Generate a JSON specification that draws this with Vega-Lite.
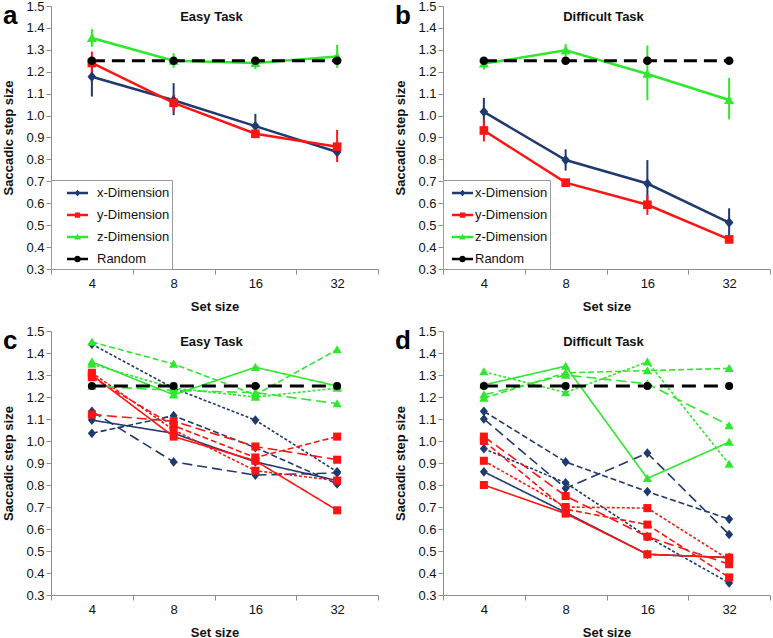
{
  "$schema": "https://vega.github.io/schema/vega-lite/v6.json",
  "background": "white",
  "padding": {"top": 0, "left": 2, "right": 0, "bottom": 0},
  "bounds": "flush",
  "columns": 2,
  "spacing": {"row": 62, "column": 65},
  "resolve": {
    "scale": {"color": "independent", "shape": "independent", "strokeDash": "independent"},
    "legend": {"color": "independent", "shape": "independent"}
  },
  "config": {
    "view": {"stroke": null},
    "font": "Liberation Sans",
    "axis": {
      "domainColor": "#8c8c8c", "tickColor": "#8c8c8c", "grid": false, "tickSize": 5,
      "labelFont": "Liberation Sans", "labelFontSize": 13, "labelColor": "#111111",
      "titleFont": "Liberation Sans", "titleFontSize": 13, "titleFontWeight": "bold", "titleColor": "#111111"
    },
    "axisY": {"labelPadding": 2, "titlePadding": 10},
    "axisX": {"labelPadding": 3, "titlePadding": 10, "labelAngle": 0, "tickBand": "extent"},
    "legend": {
      "orient": "bottom-left", "offset": 0, "strokeColor": "#9a9a9a", "fillColor": "white", "padding": 2.5, "cornerRadius": 0,
      "labelFont": "Liberation Sans", "labelFontSize": 13, "labelColor": "#111111", "symbolSize": 441, "rowPadding": 4,
      "labelOffset": 9, "symbolOffset": 13.5, "symbolStrokeWidth": 0, "symbolOpacity": 1
    }
  },
  "datasets": {
    "d": [
      {"p":"a","dim":"x-Dimension","s":"m","set":"4","v":1.177,"lo":1.087,"hi":1.267},
      {"p":"a","dim":"x-Dimension","s":"m","set":"8","v":1.070,"lo":1.002,"hi":1.148},
      {"p":"a","dim":"x-Dimension","s":"m","set":"16","v":0.952,"lo":0.898,"hi":1.008},
      {"p":"a","dim":"x-Dimension","s":"m","set":"32","v":0.834,"lo":0.805,"hi":0.863},
      {"p":"a","dim":"y-Dimension","s":"m","set":"4","v":1.240,"lo":1.190,"hi":1.292},
      {"p":"a","dim":"y-Dimension","s":"m","set":"8","v":1.058,"lo":1.020,"hi":1.096},
      {"p":"a","dim":"y-Dimension","s":"m","set":"16","v":0.917,"lo":0.897,"hi":0.937},
      {"p":"a","dim":"y-Dimension","s":"m","set":"32","v":0.858,"lo":0.788,"hi":0.935},
      {"p":"a","dim":"z-Dimension","s":"m","set":"4","v":1.354,"lo":1.314,"hi":1.394},
      {"p":"a","dim":"z-Dimension","s":"m","set":"8","v":1.250,"lo":1.218,"hi":1.285},
      {"p":"a","dim":"z-Dimension","s":"m","set":"16","v":1.240,"lo":1.212,"hi":1.268},
      {"p":"a","dim":"z-Dimension","s":"m","set":"32","v":1.270,"lo":1.218,"hi":1.322},
      {"p":"a","dim":"Random","s":"m","set":"4","v":1.25},
      {"p":"a","dim":"Random","s":"m","set":"8","v":1.25},
      {"p":"a","dim":"Random","s":"m","set":"16","v":1.25},
      {"p":"a","dim":"Random","s":"m","set":"32","v":1.25},

      {"p":"b","dim":"x-Dimension","s":"m","set":"4","v":1.017,"lo":0.953,"hi":1.081},
      {"p":"b","dim":"x-Dimension","s":"m","set":"8","v":0.797,"lo":0.749,"hi":0.846},
      {"p":"b","dim":"x-Dimension","s":"m","set":"16","v":0.690,"lo":0.585,"hi":0.797},
      {"p":"b","dim":"x-Dimension","s":"m","set":"32","v":0.512,"lo":0.447,"hi":0.577},
      {"p":"b","dim":"y-Dimension","s":"m","set":"4","v":0.932,"lo":0.882,"hi":0.982},
      {"p":"b","dim":"y-Dimension","s":"m","set":"8","v":0.694,"lo":0.680,"hi":0.710},
      {"p":"b","dim":"y-Dimension","s":"m","set":"16","v":0.593,"lo":0.547,"hi":0.639},
      {"p":"b","dim":"y-Dimension","s":"m","set":"32","v":0.435,"lo":0.418,"hi":0.452},
      {"p":"b","dim":"z-Dimension","s":"m","set":"4","v":1.237,"lo":1.210,"hi":1.265},
      {"p":"b","dim":"z-Dimension","s":"m","set":"8","v":1.298,"lo":1.270,"hi":1.326},
      {"p":"b","dim":"z-Dimension","s":"m","set":"16","v":1.190,"lo":1.070,"hi":1.320},
      {"p":"b","dim":"z-Dimension","s":"m","set":"32","v":1.071,"lo":0.983,"hi":1.172},
      {"p":"b","dim":"Random","s":"m","set":"4","v":1.25},
      {"p":"b","dim":"Random","s":"m","set":"8","v":1.25},
      {"p":"b","dim":"Random","s":"m","set":"16","v":1.25},
      {"p":"b","dim":"Random","s":"m","set":"32","v":1.25},

      {"p":"c","dim":"x-Dimension","s":"1","set":"4","v":1.095},
      {"p":"c","dim":"x-Dimension","s":"1","set":"8","v":1.035},
      {"p":"c","dim":"x-Dimension","s":"1","set":"16","v":0.905},
      {"p":"c","dim":"x-Dimension","s":"1","set":"32","v":0.820},
      {"p":"c","dim":"x-Dimension","s":"2","set":"4","v":1.135},
      {"p":"c","dim":"x-Dimension","s":"2","set":"8","v":0.905},
      {"p":"c","dim":"x-Dimension","s":"2","set":"16","v":0.845},
      {"p":"c","dim":"x-Dimension","s":"2","set":"32","v":0.855},
      {"p":"c","dim":"x-Dimension","s":"3","set":"4","v":1.035},
      {"p":"c","dim":"x-Dimension","s":"3","set":"8","v":1.115},
      {"p":"c","dim":"x-Dimension","s":"3","set":"16","v":0.970},
      {"p":"c","dim":"x-Dimension","s":"3","set":"32","v":0.805},
      {"p":"c","dim":"x-Dimension","s":"4","set":"4","v":1.440},
      {"p":"c","dim":"x-Dimension","s":"4","set":"8","v":1.240},
      {"p":"c","dim":"x-Dimension","s":"4","set":"16","v":1.095},
      {"p":"c","dim":"x-Dimension","s":"4","set":"32","v":0.860},
      {"p":"c","dim":"y-Dimension","s":"1","set":"4","v":1.300},
      {"p":"c","dim":"y-Dimension","s":"1","set":"8","v":1.020},
      {"p":"c","dim":"y-Dimension","s":"1","set":"16","v":0.910},
      {"p":"c","dim":"y-Dimension","s":"1","set":"32","v":0.685},
      {"p":"c","dim":"y-Dimension","s":"2","set":"4","v":1.120},
      {"p":"c","dim":"y-Dimension","s":"2","set":"8","v":1.090},
      {"p":"c","dim":"y-Dimension","s":"2","set":"16","v":0.975},
      {"p":"c","dim":"y-Dimension","s":"2","set":"32","v":0.915},
      {"p":"c","dim":"y-Dimension","s":"3","set":"4","v":1.290},
      {"p":"c","dim":"y-Dimension","s":"3","set":"8","v":1.070},
      {"p":"c","dim":"y-Dimension","s":"3","set":"16","v":0.925},
      {"p":"c","dim":"y-Dimension","s":"3","set":"32","v":1.020},
      {"p":"c","dim":"y-Dimension","s":"4","set":"4","v":1.310},
      {"p":"c","dim":"y-Dimension","s":"4","set":"8","v":1.050},
      {"p":"c","dim":"y-Dimension","s":"4","set":"16","v":0.865},
      {"p":"c","dim":"y-Dimension","s":"4","set":"32","v":0.820},
      {"p":"c","dim":"z-Dimension","s":"1","set":"4","v":1.360},
      {"p":"c","dim":"z-Dimension","s":"1","set":"8","v":1.210},
      {"p":"c","dim":"z-Dimension","s":"1","set":"16","v":1.335},
      {"p":"c","dim":"z-Dimension","s":"1","set":"32","v":1.250},
      {"p":"c","dim":"z-Dimension","s":"2","set":"4","v":1.250},
      {"p":"c","dim":"z-Dimension","s":"2","set":"8","v":1.230},
      {"p":"c","dim":"z-Dimension","s":"2","set":"16","v":1.220},
      {"p":"c","dim":"z-Dimension","s":"2","set":"32","v":1.170},
      {"p":"c","dim":"z-Dimension","s":"3","set":"4","v":1.450},
      {"p":"c","dim":"z-Dimension","s":"3","set":"8","v":1.350},
      {"p":"c","dim":"z-Dimension","s":"3","set":"16","v":1.210},
      {"p":"c","dim":"z-Dimension","s":"3","set":"32","v":1.415},
      {"p":"c","dim":"z-Dimension","s":"4","set":"4","v":1.350},
      {"p":"c","dim":"z-Dimension","s":"4","set":"8","v":1.240},
      {"p":"c","dim":"z-Dimension","s":"4","set":"16","v":1.200},
      {"p":"c","dim":"z-Dimension","s":"4","set":"32","v":1.240},
      {"p":"c","dim":"Random","s":"R","set":"4","v":1.25},
      {"p":"c","dim":"Random","s":"R","set":"8","v":1.25},
      {"p":"c","dim":"Random","s":"R","set":"16","v":1.25},
      {"p":"c","dim":"Random","s":"R","set":"32","v":1.25},

      {"p":"d","dim":"x-Dimension","s":"1","set":"4","v":0.860},
      {"p":"d","dim":"x-Dimension","s":"1","set":"8","v":0.675},
      {"p":"d","dim":"x-Dimension","s":"1","set":"16","v":0.485},
      {"p":"d","dim":"x-Dimension","s":"1","set":"32","v":0.470},
      {"p":"d","dim":"x-Dimension","s":"2","set":"4","v":1.100},
      {"p":"d","dim":"x-Dimension","s":"2","set":"8","v":0.785},
      {"p":"d","dim":"x-Dimension","s":"2","set":"16","v":0.945},
      {"p":"d","dim":"x-Dimension","s":"2","set":"32","v":0.575},
      {"p":"d","dim":"x-Dimension","s":"3","set":"4","v":1.135},
      {"p":"d","dim":"x-Dimension","s":"3","set":"8","v":0.905},
      {"p":"d","dim":"x-Dimension","s":"3","set":"16","v":0.770},
      {"p":"d","dim":"x-Dimension","s":"3","set":"32","v":0.645},
      {"p":"d","dim":"x-Dimension","s":"4","set":"4","v":0.965},
      {"p":"d","dim":"x-Dimension","s":"4","set":"8","v":0.810},
      {"p":"d","dim":"x-Dimension","s":"4","set":"16","v":0.565},
      {"p":"d","dim":"x-Dimension","s":"4","set":"32","v":0.355},
      {"p":"d","dim":"y-Dimension","s":"1","set":"4","v":0.800},
      {"p":"d","dim":"y-Dimension","s":"1","set":"8","v":0.670},
      {"p":"d","dim":"y-Dimension","s":"1","set":"16","v":0.485},
      {"p":"d","dim":"y-Dimension","s":"1","set":"32","v":0.470},
      {"p":"d","dim":"y-Dimension","s":"2","set":"4","v":1.020},
      {"p":"d","dim":"y-Dimension","s":"2","set":"8","v":0.750},
      {"p":"d","dim":"y-Dimension","s":"2","set":"16","v":0.565},
      {"p":"d","dim":"y-Dimension","s":"2","set":"32","v":0.440},
      {"p":"d","dim":"y-Dimension","s":"3","set":"4","v":1.000},
      {"p":"d","dim":"y-Dimension","s":"3","set":"8","v":0.690},
      {"p":"d","dim":"y-Dimension","s":"3","set":"16","v":0.620},
      {"p":"d","dim":"y-Dimension","s":"3","set":"32","v":0.380},
      {"p":"d","dim":"y-Dimension","s":"4","set":"4","v":0.910},
      {"p":"d","dim":"y-Dimension","s":"4","set":"8","v":0.700},
      {"p":"d","dim":"y-Dimension","s":"4","set":"16","v":0.695},
      {"p":"d","dim":"y-Dimension","s":"4","set":"32","v":0.460},
      {"p":"d","dim":"z-Dimension","s":"1","set":"4","v":1.255},
      {"p":"d","dim":"z-Dimension","s":"1","set":"8","v":1.340},
      {"p":"d","dim":"z-Dimension","s":"1","set":"16","v":0.830},
      {"p":"d","dim":"z-Dimension","s":"1","set":"32","v":0.995},
      {"p":"d","dim":"z-Dimension","s":"2","set":"4","v":1.210},
      {"p":"d","dim":"z-Dimension","s":"2","set":"8","v":1.300},
      {"p":"d","dim":"z-Dimension","s":"2","set":"16","v":1.260},
      {"p":"d","dim":"z-Dimension","s":"2","set":"32","v":1.070},
      {"p":"d","dim":"z-Dimension","s":"3","set":"4","v":1.195},
      {"p":"d","dim":"z-Dimension","s":"3","set":"8","v":1.310},
      {"p":"d","dim":"z-Dimension","s":"3","set":"16","v":1.320},
      {"p":"d","dim":"z-Dimension","s":"3","set":"32","v":1.330},
      {"p":"d","dim":"z-Dimension","s":"4","set":"4","v":1.315},
      {"p":"d","dim":"z-Dimension","s":"4","set":"8","v":1.220},
      {"p":"d","dim":"z-Dimension","s":"4","set":"16","v":1.360},
      {"p":"d","dim":"z-Dimension","s":"4","set":"32","v":0.895},
      {"p":"d","dim":"Random","s":"R","set":"4","v":1.25},
      {"p":"d","dim":"Random","s":"R","set":"8","v":1.25},
      {"p":"d","dim":"Random","s":"R","set":"16","v":1.25},
      {"p":"d","dim":"Random","s":"R","set":"32","v":1.25}
    ]
  },
  "concat": [
    {
      "width": 327, "height": 263,
      "title": {"text": "a", "anchor": "start", "frame": "bounds", "fontSize": 26, "fontWeight": "bold", "font": "Liberation Sans", "color": "black", "offset": -29},
      "data": {"name": "d"},
      "layer": [
        {
          "transform": [{"filter": "datum.p == 'a' && datum.dim != 'Random'"}],
          "mark": {"type": "rule", "strokeWidth": 2},
          "encoding": {
            "x": {"field": "set", "type": "ordinal", "title": "Set size", "scale": {"type": "band", "domain": ["4","8","16","32"], "paddingInner": 0, "paddingOuter": 0}},
            "y": {"field": "lo", "type": "quantitative", "title": "Saccadic step size", "scale": {"domain": [0.3, 1.5], "nice": false, "zero": false}, "axis": {"values": [0.3,0.4,0.5,0.6,0.7,0.8,0.9,1.0,1.1,1.2,1.3,1.4,1.5], "format": ".1f", "labelOverlap": false}},
            "y2": {"field": "hi"},
            "color": {"field": "dim", "type": "nominal", "scale": {"domain": ["x-Dimension","y-Dimension","z-Dimension","Random"], "range": ["#1F3A6E","#FF1414","#2EE82E","#000000"]}}
          }
        },
        {
          "transform": [{"filter": "datum.p == 'a' && datum.dim != 'Random'"}],
          "mark": {"type": "line", "strokeWidth": 2.5},
          "encoding": {
            "x": {"field": "set", "type": "ordinal", "title": "Set size", "scale": {"type": "band", "domain": ["4","8","16","32"], "paddingInner": 0, "paddingOuter": 0}},
            "y": {"field": "v", "type": "quantitative", "title": "Saccadic step size", "axis": {"values": [0.3,0.4,0.5,0.6,0.7,0.8,0.9,1.0,1.1,1.2,1.3,1.4,1.5], "format": ".1f", "labelOverlap": false}},
            "color": {"field": "dim", "type": "nominal"}
          }
        },
        {
          "transform": [{"filter": "datum.p == 'a' && datum.dim == 'Random'"}],
          "mark": {"type": "line", "strokeWidth": 3, "strokeDash": [13, 7]},
          "encoding": {
            "x": {"field": "set", "type": "ordinal", "title": "Set size", "scale": {"type": "band", "domain": ["4","8","16","32"], "paddingInner": 0, "paddingOuter": 0}},
            "y": {"field": "v", "type": "quantitative", "title": "Saccadic step size", "axis": {"values": [0.3,0.4,0.5,0.6,0.7,0.8,0.9,1.0,1.1,1.2,1.3,1.4,1.5], "format": ".1f", "labelOverlap": false}},
            "color": {"field": "dim", "type": "nominal"}
          }
        },
        {
          "transform": [{"filter": "datum.p == 'a'"}],
          "mark": {"type": "point", "filled": true, "opacity": 0, "size": 10},
          "encoding": {
            "x": {"field": "set", "type": "ordinal", "title": "Set size", "scale": {"type": "band", "domain": ["4","8","16","32"], "paddingInner": 0, "paddingOuter": 0}},
            "y": {"field": "v", "type": "quantitative", "title": "Saccadic step size", "axis": {"values": [0.3,0.4,0.5,0.6,0.7,0.8,0.9,1.0,1.1,1.2,1.3,1.4,1.5], "format": ".1f", "labelOverlap": false}},
            "color": {"field": "dim", "type": "nominal", "legend": {"title": null, "labelExpr": "datum.label + '\u00a0\u00a0\u00a0\u00a0\u00a0\u00a0\u00a0'"}},
            "shape": {"field": "dim", "type": "nominal", "legend": {"title": null, "labelExpr": "datum.label + '\u00a0\u00a0\u00a0\u00a0\u00a0\u00a0\u00a0'"}, "scale": {"domain": ["x-Dimension","y-Dimension","z-Dimension","Random"], "range": [
              "M-1,-0.12H1V0.12H-1Z M0,-0.32L0.3,0L0,0.32L-0.3,0Z",
              "M-1,-0.12H1V0.12H-1Z M-0.25,-0.25H0.25V0.25H-0.25Z",
              "M-1,-0.12H1V0.12H-1Z M0,-0.32L0.32,0.24H-0.32Z",
              "M-1,-0.12H1V0.12H-1Z M-0.32,0A0.32,0.32,0,1,1,0.32,0A0.32,0.32,0,1,1,-0.32,0Z"
            ]}}
          }
        },
        {
          "transform": [{"filter": "datum.p == 'a' && datum.dim == 'x-Dimension'"}],
          "mark": {"type": "point", "filled": true, "opacity": 1, "size": 75, "color": "#1F3A6E", "shape": "M0,-1.2L1,0L0,1.2L-1,0Z"},
          "encoding": {
            "x": {"field": "set", "type": "ordinal", "title": "Set size", "scale": {"type": "band", "domain": ["4","8","16","32"], "paddingInner": 0, "paddingOuter": 0}},
            "y": {"field": "v", "type": "quantitative", "title": "Saccadic step size", "axis": {"values": [0.3,0.4,0.5,0.6,0.7,0.8,0.9,1.0,1.1,1.2,1.3,1.4,1.5], "format": ".1f", "labelOverlap": false}}
          }
        },
        {
          "transform": [{"filter": "datum.p == 'a' && datum.dim == 'y-Dimension'"}],
          "mark": {"type": "point", "filled": true, "opacity": 1, "size": 75, "color": "#FF1414", "shape": "square"},
          "encoding": {
            "x": {"field": "set", "type": "ordinal", "title": "Set size", "scale": {"type": "band", "domain": ["4","8","16","32"], "paddingInner": 0, "paddingOuter": 0}},
            "y": {"field": "v", "type": "quantitative", "title": "Saccadic step size", "axis": {"values": [0.3,0.4,0.5,0.6,0.7,0.8,0.9,1.0,1.1,1.2,1.3,1.4,1.5], "format": ".1f", "labelOverlap": false}}
          }
        },
        {
          "transform": [{"filter": "datum.p == 'a' && datum.dim == 'z-Dimension'"}],
          "mark": {"type": "point", "filled": true, "opacity": 1, "size": 75, "color": "#2EE82E", "shape": "M0,-1.1L1.15,0.9L-1.15,0.9Z"},
          "encoding": {
            "x": {"field": "set", "type": "ordinal", "title": "Set size", "scale": {"type": "band", "domain": ["4","8","16","32"], "paddingInner": 0, "paddingOuter": 0}},
            "y": {"field": "v", "type": "quantitative", "title": "Saccadic step size", "axis": {"values": [0.3,0.4,0.5,0.6,0.7,0.8,0.9,1.0,1.1,1.2,1.3,1.4,1.5], "format": ".1f", "labelOverlap": false}}
          }
        },
        {
          "transform": [{"filter": "datum.p == 'a' && datum.dim == 'Random'"}],
          "mark": {"type": "point", "filled": true, "opacity": 1, "size": 75, "color": "#000000", "shape": "circle"},
          "encoding": {
            "x": {"field": "set", "type": "ordinal", "title": "Set size", "scale": {"type": "band", "domain": ["4","8","16","32"], "paddingInner": 0, "paddingOuter": 0}},
            "y": {"field": "v", "type": "quantitative", "title": "Saccadic step size", "axis": {"values": [0.3,0.4,0.5,0.6,0.7,0.8,0.9,1.0,1.1,1.2,1.3,1.4,1.5], "format": ".1f", "labelOverlap": false}}
          }
        },
        {
          "data": {"values": [{"t": "Easy Task"}]},
          "mark": {"type": "text", "font": "Liberation Sans", "fontSize": 13, "fontWeight": "bold", "align": "center", "baseline": "middle", "dx": -3, "color": "#111111"},
          "encoding": {
            "x": {"datum": "8", "type": "ordinal", "bandPosition": 1},
            "y": {"datum": 1.45, "type": "quantitative", "axis": {"values": [0.3,0.4,0.5,0.6,0.7,0.8,0.9,1.0,1.1,1.2,1.3,1.4,1.5], "format": ".1f", "labelOverlap": false}},
            "text": {"field": "t"}
          }
        }
      ]
    },
    {
      "width": 327, "height": 263,
      "title": {"text": "b", "anchor": "start", "frame": "bounds", "fontSize": 26, "fontWeight": "bold", "font": "Liberation Sans", "color": "black", "offset": -29},
      "data": {"name": "d"},
      "layer": [
        {
          "transform": [{"filter": "datum.p == 'b' && datum.dim != 'Random'"}],
          "mark": {"type": "rule", "strokeWidth": 2},
          "encoding": {
            "x": {"field": "set", "type": "ordinal", "title": "Set size", "scale": {"type": "band", "domain": ["4","8","16","32"], "paddingInner": 0, "paddingOuter": 0}},
            "y": {"field": "lo", "type": "quantitative", "title": "Saccadic step size", "scale": {"domain": [0.3, 1.5], "nice": false, "zero": false}, "axis": {"values": [0.3,0.4,0.5,0.6,0.7,0.8,0.9,1.0,1.1,1.2,1.3,1.4,1.5], "format": ".1f", "labelOverlap": false}},
            "y2": {"field": "hi"},
            "color": {"field": "dim", "type": "nominal", "scale": {"domain": ["x-Dimension","y-Dimension","z-Dimension","Random"], "range": ["#1F3A6E","#FF1414","#2EE82E","#000000"]}}
          }
        },
        {
          "transform": [{"filter": "datum.p == 'b' && datum.dim != 'Random'"}],
          "mark": {"type": "line", "strokeWidth": 2.5},
          "encoding": {
            "x": {"field": "set", "type": "ordinal", "title": "Set size", "scale": {"type": "band", "domain": ["4","8","16","32"], "paddingInner": 0, "paddingOuter": 0}},
            "y": {"field": "v", "type": "quantitative", "title": "Saccadic step size", "axis": {"values": [0.3,0.4,0.5,0.6,0.7,0.8,0.9,1.0,1.1,1.2,1.3,1.4,1.5], "format": ".1f", "labelOverlap": false}},
            "color": {"field": "dim", "type": "nominal"}
          }
        },
        {
          "transform": [{"filter": "datum.p == 'b' && datum.dim == 'Random'"}],
          "mark": {"type": "line", "strokeWidth": 3, "strokeDash": [13, 7]},
          "encoding": {
            "x": {"field": "set", "type": "ordinal", "title": "Set size", "scale": {"type": "band", "domain": ["4","8","16","32"], "paddingInner": 0, "paddingOuter": 0}},
            "y": {"field": "v", "type": "quantitative", "title": "Saccadic step size", "axis": {"values": [0.3,0.4,0.5,0.6,0.7,0.8,0.9,1.0,1.1,1.2,1.3,1.4,1.5], "format": ".1f", "labelOverlap": false}},
            "color": {"field": "dim", "type": "nominal"}
          }
        },
        {
          "transform": [{"filter": "datum.p == 'b'"}],
          "mark": {"type": "point", "filled": true, "opacity": 0, "size": 10},
          "encoding": {
            "x": {"field": "set", "type": "ordinal", "title": "Set size", "scale": {"type": "band", "domain": ["4","8","16","32"], "paddingInner": 0, "paddingOuter": 0}},
            "y": {"field": "v", "type": "quantitative", "title": "Saccadic step size", "axis": {"values": [0.3,0.4,0.5,0.6,0.7,0.8,0.9,1.0,1.1,1.2,1.3,1.4,1.5], "format": ".1f", "labelOverlap": false}},
            "color": {"field": "dim", "type": "nominal", "legend": {"title": null, "labelOffset": 2, "symbolOffset": 6.5, "labelExpr": "datum.label + '\u00a0\u00a0\u00a0\u00a0'"}},
            "shape": {"field": "dim", "type": "nominal", "legend": {"title": null, "labelOffset": 2, "symbolOffset": 6.5, "labelExpr": "datum.label + '\u00a0\u00a0\u00a0\u00a0'"}, "scale": {"domain": ["x-Dimension","y-Dimension","z-Dimension","Random"], "range": [
              "M-1,-0.12H1V0.12H-1Z M0,-0.32L0.3,0L0,0.32L-0.3,0Z",
              "M-1,-0.12H1V0.12H-1Z M-0.25,-0.25H0.25V0.25H-0.25Z",
              "M-1,-0.12H1V0.12H-1Z M0,-0.32L0.32,0.24H-0.32Z",
              "M-1,-0.12H1V0.12H-1Z M-0.32,0A0.32,0.32,0,1,1,0.32,0A0.32,0.32,0,1,1,-0.32,0Z"
            ]}}
          }
        },
        {
          "transform": [{"filter": "datum.p == 'b' && datum.dim == 'x-Dimension'"}],
          "mark": {"type": "point", "filled": true, "opacity": 1, "size": 75, "color": "#1F3A6E", "shape": "M0,-1.2L1,0L0,1.2L-1,0Z"},
          "encoding": {
            "x": {"field": "set", "type": "ordinal", "title": "Set size", "scale": {"type": "band", "domain": ["4","8","16","32"], "paddingInner": 0, "paddingOuter": 0}},
            "y": {"field": "v", "type": "quantitative", "title": "Saccadic step size", "axis": {"values": [0.3,0.4,0.5,0.6,0.7,0.8,0.9,1.0,1.1,1.2,1.3,1.4,1.5], "format": ".1f", "labelOverlap": false}}
          }
        },
        {
          "transform": [{"filter": "datum.p == 'b' && datum.dim == 'y-Dimension'"}],
          "mark": {"type": "point", "filled": true, "opacity": 1, "size": 75, "color": "#FF1414", "shape": "square"},
          "encoding": {
            "x": {"field": "set", "type": "ordinal", "title": "Set size", "scale": {"type": "band", "domain": ["4","8","16","32"], "paddingInner": 0, "paddingOuter": 0}},
            "y": {"field": "v", "type": "quantitative", "title": "Saccadic step size", "axis": {"values": [0.3,0.4,0.5,0.6,0.7,0.8,0.9,1.0,1.1,1.2,1.3,1.4,1.5], "format": ".1f", "labelOverlap": false}}
          }
        },
        {
          "transform": [{"filter": "datum.p == 'b' && datum.dim == 'z-Dimension'"}],
          "mark": {"type": "point", "filled": true, "opacity": 1, "size": 75, "color": "#2EE82E", "shape": "M0,-1.1L1.15,0.9L-1.15,0.9Z"},
          "encoding": {
            "x": {"field": "set", "type": "ordinal", "title": "Set size", "scale": {"type": "band", "domain": ["4","8","16","32"], "paddingInner": 0, "paddingOuter": 0}},
            "y": {"field": "v", "type": "quantitative", "title": "Saccadic step size", "axis": {"values": [0.3,0.4,0.5,0.6,0.7,0.8,0.9,1.0,1.1,1.2,1.3,1.4,1.5], "format": ".1f", "labelOverlap": false}}
          }
        },
        {
          "transform": [{"filter": "datum.p == 'b' && datum.dim == 'Random'"}],
          "mark": {"type": "point", "filled": true, "opacity": 1, "size": 75, "color": "#000000", "shape": "circle"},
          "encoding": {
            "x": {"field": "set", "type": "ordinal", "title": "Set size", "scale": {"type": "band", "domain": ["4","8","16","32"], "paddingInner": 0, "paddingOuter": 0}},
            "y": {"field": "v", "type": "quantitative", "title": "Saccadic step size", "axis": {"values": [0.3,0.4,0.5,0.6,0.7,0.8,0.9,1.0,1.1,1.2,1.3,1.4,1.5], "format": ".1f", "labelOverlap": false}}
          }
        },
        {
          "data": {"values": [{"t": "Difficult Task"}]},
          "mark": {"type": "text", "font": "Liberation Sans", "fontSize": 13, "fontWeight": "bold", "align": "center", "baseline": "middle", "dx": -3, "color": "#111111"},
          "encoding": {
            "x": {"datum": "8", "type": "ordinal", "bandPosition": 1},
            "y": {"datum": 1.45, "type": "quantitative", "axis": {"values": [0.3,0.4,0.5,0.6,0.7,0.8,0.9,1.0,1.1,1.2,1.3,1.4,1.5], "format": ".1f", "labelOverlap": false}},
            "text": {"field": "t"}
          }
        }
      ]
    },
    {
      "width": 327, "height": 264,
      "title": {"text": "c", "anchor": "start", "frame": "bounds", "fontSize": 26, "fontWeight": "bold", "font": "Liberation Sans", "color": "black", "offset": -29},
      "data": {"name": "d"},
      "layer": [
        {
          "transform": [{"filter": "datum.p == 'c' && datum.dim != 'Random'"}],
          "mark": {"type": "line", "strokeWidth": 1.6},
          "encoding": {
            "x": {"field": "set", "type": "ordinal", "title": "Set size", "scale": {"type": "band", "domain": ["4","8","16","32"], "paddingInner": 0, "paddingOuter": 0}},
            "y": {"field": "v", "type": "quantitative", "title": "Saccadic step size", "scale": {"domain": [0.3, 1.5], "nice": false, "zero": false}, "axis": {"values": [0.3,0.4,0.5,0.6,0.7,0.8,0.9,1.0,1.1,1.2,1.3,1.4,1.5], "format": ".1f", "labelOverlap": false}},
            "color": {"field": "dim", "type": "nominal", "legend": null, "scale": {"domain": ["x-Dimension","y-Dimension","z-Dimension","Random"], "range": ["#1F3A6E","#FF1414","#2EE82E","#000000"]}},
            "strokeDash": {"field": "s", "type": "nominal", "legend": null, "scale": {"domain": ["1","2","3","4"], "range": [[1,0],[10,5],[6,3],[3,2]]}}
          }
        },
        {
          "transform": [{"filter": "datum.p == 'c' && datum.dim == 'Random'"}],
          "mark": {"type": "line", "strokeWidth": 3, "strokeDash": [14, 8]},
          "encoding": {
            "x": {"field": "set", "type": "ordinal", "title": "Set size", "scale": {"type": "band", "domain": ["4","8","16","32"], "paddingInner": 0, "paddingOuter": 0}},
            "y": {"field": "v", "type": "quantitative", "title": "Saccadic step size", "axis": {"values": [0.3,0.4,0.5,0.6,0.7,0.8,0.9,1.0,1.1,1.2,1.3,1.4,1.5], "format": ".1f", "labelOverlap": false}},
            "color": {"field": "dim", "type": "nominal", "legend": null}
          }
        },
        {
          "transform": [{"filter": "datum.p == 'c'"}],
          "mark": {"type": "point", "filled": true, "opacity": 1, "size": 65},
          "encoding": {
            "x": {"field": "set", "type": "ordinal", "title": "Set size", "scale": {"type": "band", "domain": ["4","8","16","32"], "paddingInner": 0, "paddingOuter": 0}},
            "y": {"field": "v", "type": "quantitative", "title": "Saccadic step size", "axis": {"values": [0.3,0.4,0.5,0.6,0.7,0.8,0.9,1.0,1.1,1.2,1.3,1.4,1.5], "format": ".1f", "labelOverlap": false}},
            "color": {"field": "dim", "type": "nominal", "legend": null},
            "shape": {"field": "dim", "type": "nominal", "legend": null, "scale": {"domain": ["x-Dimension","y-Dimension","z-Dimension","Random"], "range": ["M0,-1.2L1,0L0,1.2L-1,0Z","square","M0,-1.1L1.15,0.9L-1.15,0.9Z","circle"]}}
          }
        },
        {
          "data": {"values": [{"t": "Easy Task"}]},
          "mark": {"type": "text", "font": "Liberation Sans", "fontSize": 13, "fontWeight": "bold", "align": "center", "baseline": "middle", "dx": -3, "color": "#111111"},
          "encoding": {
            "x": {"datum": "8", "type": "ordinal", "bandPosition": 1},
            "y": {"datum": 1.45, "type": "quantitative", "axis": {"values": [0.3,0.4,0.5,0.6,0.7,0.8,0.9,1.0,1.1,1.2,1.3,1.4,1.5], "format": ".1f", "labelOverlap": false}},
            "text": {"field": "t"}
          }
        }
      ]
    },
    {
      "width": 327, "height": 264,
      "title": {"text": "d", "anchor": "start", "frame": "bounds", "fontSize": 26, "fontWeight": "bold", "font": "Liberation Sans", "color": "black", "offset": -29},
      "data": {"name": "d"},
      "layer": [
        {
          "transform": [{"filter": "datum.p == 'd' && datum.dim != 'Random'"}],
          "mark": {"type": "line", "strokeWidth": 1.6},
          "encoding": {
            "x": {"field": "set", "type": "ordinal", "title": "Set size", "scale": {"type": "band", "domain": ["4","8","16","32"], "paddingInner": 0, "paddingOuter": 0}},
            "y": {"field": "v", "type": "quantitative", "title": "Saccadic step size", "scale": {"domain": [0.3, 1.5], "nice": false, "zero": false}, "axis": {"values": [0.3,0.4,0.5,0.6,0.7,0.8,0.9,1.0,1.1,1.2,1.3,1.4,1.5], "format": ".1f", "labelOverlap": false}},
            "color": {"field": "dim", "type": "nominal", "legend": null, "scale": {"domain": ["x-Dimension","y-Dimension","z-Dimension","Random"], "range": ["#1F3A6E","#FF1414","#2EE82E","#000000"]}},
            "strokeDash": {"field": "s", "type": "nominal", "legend": null, "scale": {"domain": ["1","2","3","4"], "range": [[1,0],[10,5],[6,3],[3,2]]}}
          }
        },
        {
          "transform": [{"filter": "datum.p == 'd' && datum.dim == 'Random'"}],
          "mark": {"type": "line", "strokeWidth": 3, "strokeDash": [14, 8]},
          "encoding": {
            "x": {"field": "set", "type": "ordinal", "title": "Set size", "scale": {"type": "band", "domain": ["4","8","16","32"], "paddingInner": 0, "paddingOuter": 0}},
            "y": {"field": "v", "type": "quantitative", "title": "Saccadic step size", "axis": {"values": [0.3,0.4,0.5,0.6,0.7,0.8,0.9,1.0,1.1,1.2,1.3,1.4,1.5], "format": ".1f", "labelOverlap": false}},
            "color": {"field": "dim", "type": "nominal", "legend": null}
          }
        },
        {
          "transform": [{"filter": "datum.p == 'd'"}],
          "mark": {"type": "point", "filled": true, "opacity": 1, "size": 65},
          "encoding": {
            "x": {"field": "set", "type": "ordinal", "title": "Set size", "scale": {"type": "band", "domain": ["4","8","16","32"], "paddingInner": 0, "paddingOuter": 0}},
            "y": {"field": "v", "type": "quantitative", "title": "Saccadic step size", "axis": {"values": [0.3,0.4,0.5,0.6,0.7,0.8,0.9,1.0,1.1,1.2,1.3,1.4,1.5], "format": ".1f", "labelOverlap": false}},
            "color": {"field": "dim", "type": "nominal", "legend": null},
            "shape": {"field": "dim", "type": "nominal", "legend": null, "scale": {"domain": ["x-Dimension","y-Dimension","z-Dimension","Random"], "range": ["M0,-1.2L1,0L0,1.2L-1,0Z","square","M0,-1.1L1.15,0.9L-1.15,0.9Z","circle"]}}
          }
        },
        {
          "data": {"values": [{"t": "Difficult Task"}]},
          "mark": {"type": "text", "font": "Liberation Sans", "fontSize": 13, "fontWeight": "bold", "align": "center", "baseline": "middle", "dx": -3, "color": "#111111"},
          "encoding": {
            "x": {"datum": "8", "type": "ordinal", "bandPosition": 1},
            "y": {"datum": 1.45, "type": "quantitative", "axis": {"values": [0.3,0.4,0.5,0.6,0.7,0.8,0.9,1.0,1.1,1.2,1.3,1.4,1.5], "format": ".1f", "labelOverlap": false}},
            "text": {"field": "t"}
          }
        }
      ]
    }
  ]
}
